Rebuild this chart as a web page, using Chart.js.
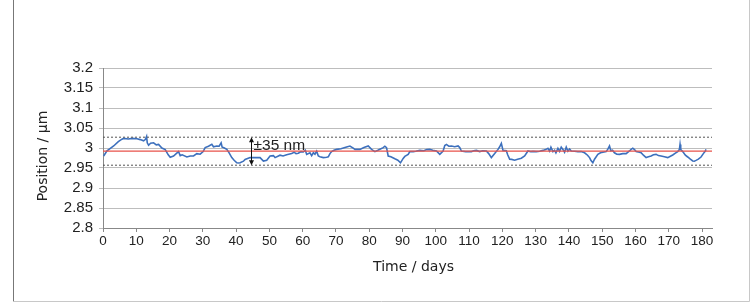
<!DOCTYPE html>
<html>
<head>
<meta charset="utf-8">
<script src="https://cdn.jsdelivr.net/npm/chart.js@4/dist/chart.umd.min.js"></script>
<style>
  body { margin: 0; background: #fff; }
  #chart { display: block; }
</style>
</head>
<body>
<canvas id="chart" width="755" height="306"></canvas>
<script>
// Position drift over ~6 months
const days = [
  0.2, 1.2, 1.7, 3.2, 4.6, 5.7, 6.2, 7.6, 8.8, 10.2, 11.2, 12.2, 12.7, 13.1, 13.3, 13.7, 14.3, 15.2, 16.0, 16.7,
  17.7, 18.7, 19.6, 20.2, 21.2, 22.0, 22.7, 23.2, 23.8, 25.2, 26.2, 27.2, 28.2, 29.2, 30.1, 30.7, 31.7, 32.7, 33.2, 34.2,
  34.9, 35.5, 35.8, 36.2, 37.2, 37.9, 38.7, 39.4, 40.2, 40.7, 41.2, 42.2, 42.7, 44.2, 45.2, 46.2, 47.2, 48.2, 49.2, 50.2,
  51.2, 51.7, 53.2, 54.1, 55.2, 56.7, 57.4, 58.0, 58.7, 59.5, 60.2, 60.8, 61.2, 62.2, 62.7, 63.2, 63.7, 64.2, 64.7, 65.2,
  66.2, 67.2, 67.7, 68.2, 68.7, 69.4, 70.2, 71.5, 73.2, 74.2, 75.2, 75.7, 77.2, 78.4, 79.7, 80.7, 81.7, 82.6, 83.2, 84.2,
  84.7, 85.2, 85.7, 86.5, 87.7, 88.6, 89.4, 90.2, 90.7, 91.7, 92.2, 93.2, 94.0, 95.2, 96.4, 97.3, 98.2, 99.1, 100.2, 101.2,
  102.2, 102.7, 103.2, 103.9, 104.7, 105.7, 106.7, 107.2, 107.7, 109.0, 110.7, 111.4, 112.2, 113.2, 114.1, 115.2, 115.9, 116.7, 117.7, 118.7,
  119.2, 119.7, 120.2, 121.2, 121.6, 122.2, 122.8, 123.7, 124.6, 125.7, 126.7, 127.7, 128.5, 129.2, 130.2, 131.2, 132.2, 133.0, 133.7, 134.2,
  134.6, 135.2, 135.7, 136.1, 136.7, 137.2, 137.7, 138.2, 138.7, 139.2, 139.7, 140.2, 140.7, 141.7, 142.7, 143.7, 144.7, 145.6, 146.2, 146.6,
  147.2, 147.7, 148.7, 149.5, 150.2, 151.2, 151.7, 152.2, 152.6, 153.1, 153.7, 154.4, 155.2, 156.2, 157.2, 158.2, 158.7, 159.2, 159.7, 160.2,
  161.2, 161.7, 162.4, 163.2, 163.9, 164.7, 165.4, 166.2, 166.9, 167.7, 168.7, 169.7, 170.5, 171.2, 172.0, 172.7, 173.2, 173.4, 173.6, 174.2,
  175.0, 175.7, 176.5, 177.2, 177.7, 178.2, 178.9, 179.7, 180.4, 181.0, 181.2
];
const positions = [
  2.980, 2.993, 2.996, 3.005, 3.016, 3.022, 3.024, 3.0225, 3.024, 3.023, 3.021, 3.018, 3.021, 3.029, 3.013, 3.007, 3.012, 3.013, 3.008, 3.009,
  3.000, 2.996, 2.983, 2.977, 2.980, 2.986, 2.991, 2.981, 2.983, 2.9775, 2.980, 2.980, 2.986, 2.9845, 2.991, 3.001, 3.0045, 3.009, 3.003, 3.005,
  3.0045, 3.013, 3.002, 3.001, 2.9965, 2.988, 2.976, 2.9695, 2.963, 2.9625, 2.963, 2.967, 2.9715, 2.976, 2.976, 2.976, 2.976, 2.9675, 2.9695, 2.980,
  2.981, 2.976, 2.982, 2.980, 2.983, 2.986, 2.9895, 2.986, 2.987, 2.991, 2.990, 2.9945, 2.984, 2.988, 2.981, 2.988, 2.9845, 2.992, 2.980, 2.978,
  2.976, 2.977, 2.978, 2.986, 2.991, 2.9945, 2.9965, 2.998, 3.0025, 3.005, 2.9995, 2.9965, 2.9965, 3.001, 3.005, 2.9965, 2.991, 2.9945, 2.997, 3.001,
  3.0045, 3.001, 2.980, 2.978, 2.973, 2.9695, 2.963, 2.974, 2.979, 2.984, 2.991, 2.991, 2.992, 2.994, 2.993, 2.996, 2.9965, 2.9945, 2.9925, 2.984,
  2.9925, 3.006, 3.009, 3.0045, 3.005, 3.003, 3.005, 3.001, 2.9925, 2.991, 2.991, 2.993, 2.994, 2.991, 2.993, 2.9925, 2.986, 2.976, 2.986, 2.9965,
  3.003, 3.0115, 2.994, 2.993, 2.983, 2.972, 2.9715, 2.9695, 2.972, 2.9745, 2.980, 2.9925, 2.991, 2.9915, 2.991, 2.992, 2.994, 2.996, 2.999, 2.992,
  3.002, 2.991, 2.9945, 2.988, 2.999, 2.9915, 3.002, 2.9965, 2.9895, 3.0025, 2.992, 2.9975, 2.9925, 2.992, 2.991, 2.991, 2.988, 2.982, 2.976, 2.9695,
  2.963, 2.972, 2.984, 2.988, 2.9895, 2.991, 2.997, 3.005, 2.993, 2.9945, 2.988, 2.9845, 2.984, 2.986, 2.986, 2.9925, 2.9965, 2.9995, 2.996, 2.991,
  2.9895, 2.988, 2.982, 2.976, 2.978, 2.980, 2.983, 2.984, 2.981, 2.980, 2.978, 2.976, 2.9795, 2.9825, 2.987, 2.991, 2.996, 3.009, 2.996, 2.991,
  2.982, 2.9775, 2.972, 2.9675, 2.967, 2.969, 2.972, 2.9775, 2.986, 2.9925, 2.9965
];

const meanPosition = 2.992;   // red reference line
const bandHalfWidth = 0.035;  // ±35 nm
const bandLabel = '\u00b135 nm';
const arrowDay = 44.5;
const xTitle = 'Time / days';
const yTitle = 'Position / \u00b5m';

const xMin = 0, xMax = 183;
const yMin = 2.8, yMax = 3.2;

const tickFont = "'Liberation Sans', Arial, sans-serif";
const titleFont = "'DejaVu Sans', sans-serif";
const textColor = '#222';

const series = days.map((d, i) => ({ x: d, y: positions[i] }));
const hLine = v => [{ x: xMin, y: v }, { x: xMax, y: v }];

// frame around the figure
const framePlugin = {
  id: 'frame',
  beforeDraw(chart) {
    const c = chart.ctx;
    c.save();
    c.fillStyle = '#fff';
    c.fillRect(0, 0, chart.width, chart.height);
    c.lineWidth = 1;
    c.strokeStyle = '#777';
    c.beginPath();
    c.moveTo(13.5, 0);
    c.lineTo(13.5, 301.5);
    c.stroke();
    c.strokeStyle = '#c8c8c8';
    c.beginPath();
    c.moveTo(13.5, 301.5);
    c.lineTo(749.5, 301.5);
    c.lineTo(749.5, 0);
    c.stroke();
    c.restore();
  }
};

// axis titles, placed like the original figure
const titlesPlugin = {
  id: 'axisTitles',
  afterDraw(chart) {
    const c = chart.ctx;
    const a = chart.chartArea;
    c.save();
    c.fillStyle = textColor;
    c.font = '14px ' + titleFont;
    c.textAlign = 'center';
    c.textBaseline = 'middle';
    c.fillText(xTitle, (a.left + a.right) / 2 + 6, a.bottom + 39);
    c.translate(43, (a.top + a.bottom) / 2 + 8);
    c.rotate(-Math.PI / 2);
    c.fillText(yTitle, 0, 0);
    c.restore();
  }
};

// double arrow with the ±35 nm label
const arrowPlugin = {
  id: 'bandArrow',
  afterDatasetsDraw(chart) {
    const c = chart.ctx;
    const xs = chart.scales.x, ys = chart.scales.y;
    const x = Math.round(xs.getPixelForValue(arrowDay)) + 0.5;
    const yTop = ys.getPixelForValue(meanPosition + bandHalfWidth);
    const yBot = ys.getPixelForValue(meanPosition - bandHalfWidth);
    c.save();
    c.strokeStyle = '#111';
    c.fillStyle = '#111';
    c.lineWidth = 1;
    c.beginPath();
    c.moveTo(x, yTop + 3);
    c.lineTo(x, yBot - 3);
    c.stroke();
    c.beginPath();
    c.moveTo(x, yTop); c.lineTo(x - 2.5, yTop + 5); c.lineTo(x + 2.5, yTop + 5); c.closePath();
    c.moveTo(x, yBot); c.lineTo(x - 2.5, yBot - 5); c.lineTo(x + 2.5, yBot - 5); c.closePath();
    c.fill();
    c.font = '15.5px ' + tickFont;
    c.fillStyle = textColor;
    c.textBaseline = 'middle';
    c.fillText(bandLabel, x + 2, yTop + 9);
    c.restore();
  }
};

new Chart(document.getElementById('chart'), {
  type: 'line',
  data: {
    datasets: [
      {
        data: hLine(meanPosition + bandHalfWidth),
        borderColor: '#555',
        borderWidth: 1,
        borderDash: [2, 2],
        pointRadius: 0
      },
      {
        data: hLine(meanPosition - bandHalfWidth),
        borderColor: '#555',
        borderWidth: 1,
        borderDash: [2, 2],
        pointRadius: 0
      },
      {
        data: hLine(meanPosition),
        borderColor: '#e8524a',
        borderWidth: 1.2,
        pointRadius: 0
      },
      {
        data: series,
        borderColor: '#3d70bd',
        borderWidth: 1.6,
        pointRadius: 0,
        tension: 0
      }
    ]
  },
  options: {
    responsive: false,
    animation: false,
    devicePixelRatio: 1,
    layout: { padding: { left: 30, top: 68, right: 43, bottom: 26 } },
    plugins: {
      legend: { display: false },
      tooltip: { enabled: false }
    },
    scales: {
      x: {
        type: 'linear',
        min: xMin,
        max: xMax,
        ticks: {
          stepSize: 10,
          includeBounds: false,
          maxRotation: 0,
          autoSkip: false,
          padding: 1,
          color: textColor,
          font: { family: tickFont, size: 13.5 }
        },
        grid: { drawOnChartArea: false, drawTicks: true, tickLength: 4, color: '#888' },
        border: { color: '#888' },
        afterFit(scale) { scale.height = 52; }
      },
      y: {
        min: yMin,
        max: yMax,
        ticks: {
          stepSize: 0.05,
          autoSkip: false,
          padding: 6,
          color: textColor,
          font: { family: tickFont, size: 15 },
          callback: v => String(Number(v.toFixed(2)))
        },
        grid: { color: '#bdbdbd', tickLength: 4 },
        border: { color: '#888' },
        afterFit(scale) { scale.width = 73; }
      }
    }
  },
  plugins: [framePlugin, arrowPlugin, titlesPlugin]
});
</script>
</body>
</html>
